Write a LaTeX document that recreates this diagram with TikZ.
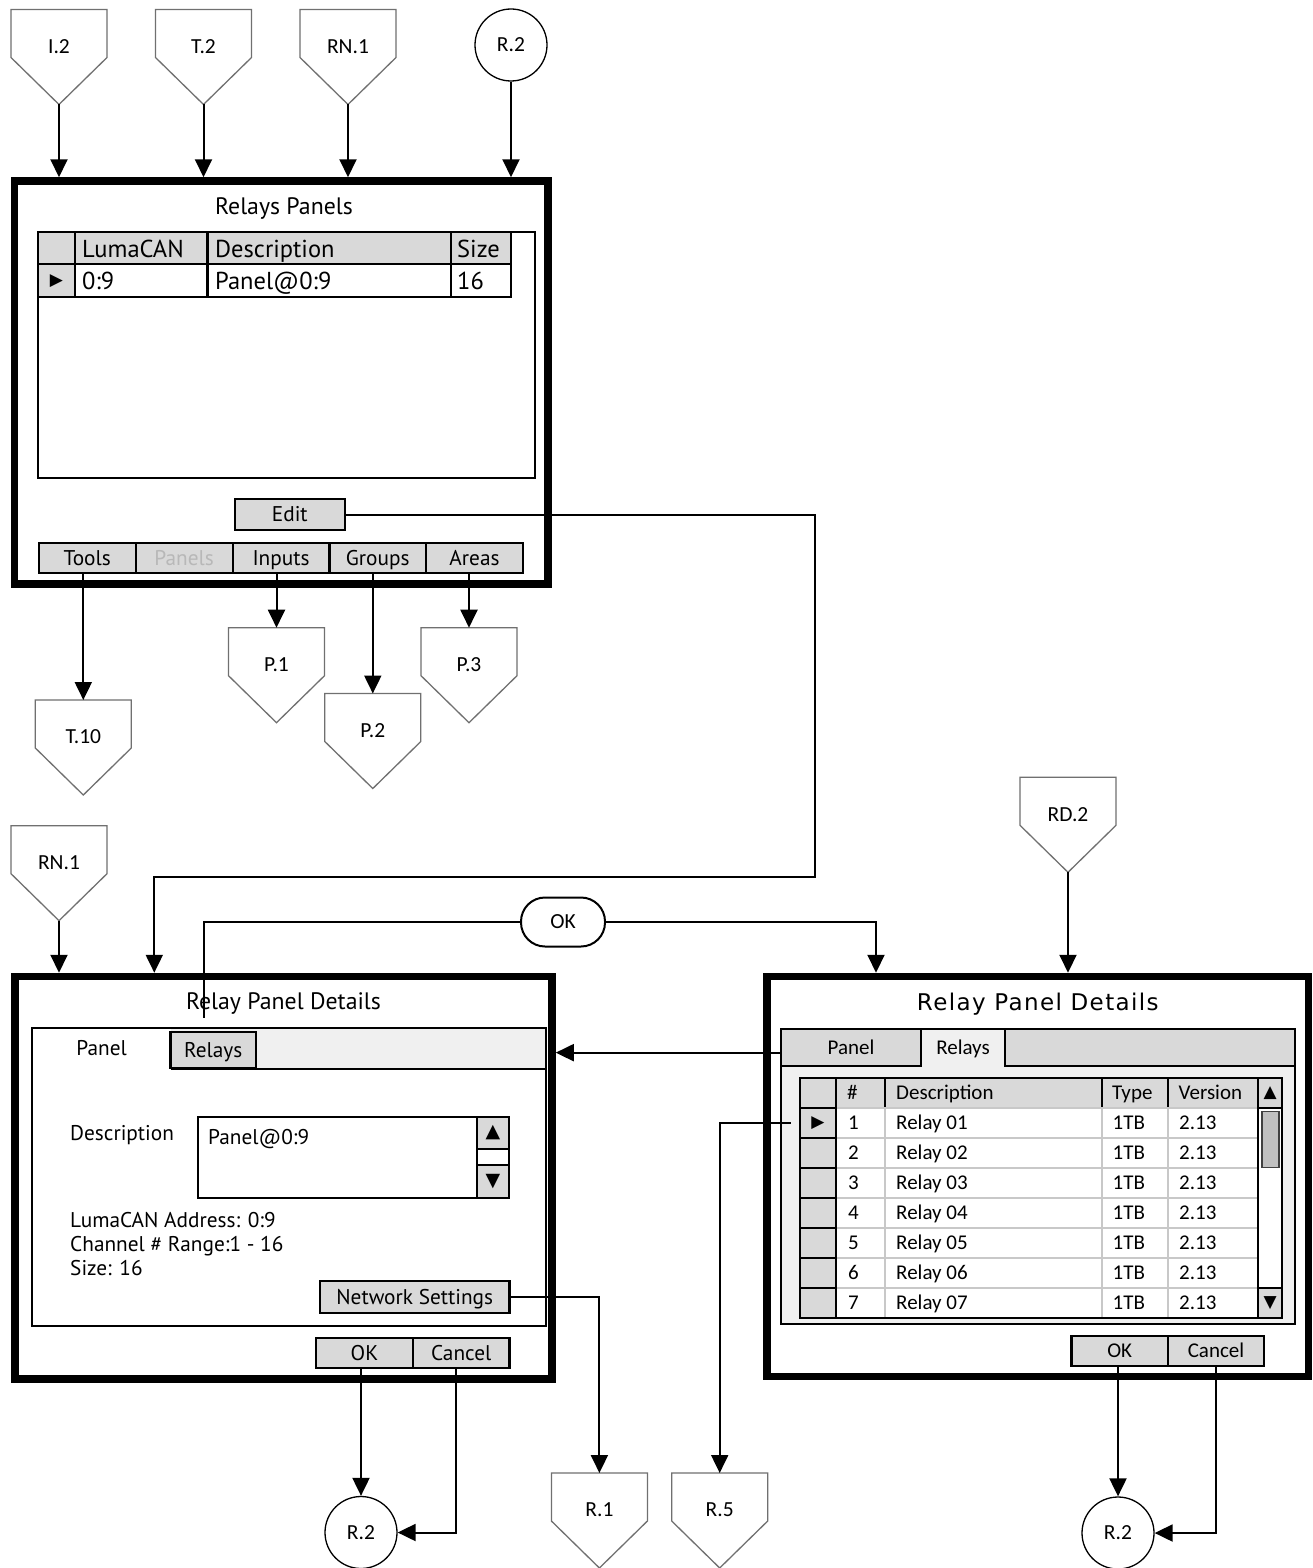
\documentclass[tikz,border=0pt]{standalone}
\usepackage{fontspec}
\setmainfont{Carlito}
\newfontfamily\ptsans{PT Sans}
\newfontfamily\djv{DejaVu Sans}
\newfontfamily\djvw[LetterSpace=6]{DejaVu Sans}
\usetikzlibrary{arrows.meta}
\definecolor{btngray}{HTML}{D9D9D9}
\definecolor{lightbg}{HTML}{F0F0F0}
\definecolor{gridgray}{HTML}{C8C8C8}
\definecolor{opgray}{HTML}{707070}
\definecolor{dimtext}{HTML}{B8B8B8}
\definecolor{thumbgray}{HTML}{C0C0C0}
% rectangle node by corners: opts, name, x1, y1, x2, y2, text
\newcommand\rbx[7]{\node[#1, inner sep=0pt, minimum width={(#5)-(#3)}, minimum height={(#6)-(#4)}] (#2) at ({((#3)+(#5))/2},{((#4)+(#6))/2}) {#7};}
% off-page connector: name, centre x, top y, label
\newcommand\opg[4]{%
  \draw[opgl] ({#2-48},#3) -- ({#2+48},#3) -- ({#2+48},{#3+48}) -- (#2,{#3+95}) -- ({#2-48},{#3+48}) -- cycle;
  \coordinate (#1-top) at (#2,#3);
  \coordinate (#1-tip) at (#2,{#3+95});
  \node[lab] (#1) at (#2,{#3+37}) {#4};}
\begin{document}
\begin{tikzpicture}[x=1pt,y=-1pt,
  win/.style={draw, line width=7.5pt, fill=white},
  frm/.style={draw, line width=2.2pt},
  gb/.style={draw, line width=2.2pt, fill=btngray},
  conn/.style={line width=2pt, -{Triangle[length=18pt,width=17pt]}},
  wire/.style={line width=2pt},
  opgl/.style={draw=opgray, line width=1.3pt, fill=white},
  lab/.style={font=\fontsize{21.5}{25}\selectfont, inner sep=0pt, text height=13.8pt, text depth=0pt},
  circ/.style={draw, circle, line width=1.3pt, minimum size=72pt, inner sep=0pt, font=\fontsize{21.5}{25}\selectfont, text height=13.8pt, text depth=0pt},
  ttl/.style={font=\ptsans\fontsize{23.8}{28}\selectfont, inner sep=0pt, text height=16.5pt, text depth=0pt},
  big/.style={font=\ptsans\fontsize{24.5}{29}\selectfont, text height=17pt, text depth=0pt},
  sm/.style={font=\ptsans\fontsize{21.3}{25}\selectfont, text height=14.8pt, text depth=0pt},
  cal/.style={font=\fontsize{21}{25}\selectfont, text height=13.5pt, text depth=0pt},
  sym/.style={font=\djv\fontsize{17}{20}\selectfont, inner sep=0pt},
  tx/.style={inner sep=0pt, anchor=west},
]
\fill[white] (0,0) rectangle (1312,1568);
\useasboundingbox (0,0) rectangle (1312,1568);

% ---------------- top window ----------------
\rbx{win}{w1}{14.5}{181}{548}{584}{}
\node[ttl] (w1t) at (284,206.5) {Relays Panels};
\rbx{frm,fill=white}{tb1}{37.7}{231.7}{535}{478}{}
\rbx{gb}{h1s}{37.7}{231.7}{74.7}{264}{}
\rbx{gb}{h1a}{74.7}{231.7}{207.5}{264}{}
\rbx{gb}{h1b}{207.5}{231.7}{451}{264}{}
\rbx{gb}{h1c}{451}{231.7}{510.8}{264}{}
\rbx{gb}{r1s}{37.7}{264}{74.7}{296.7}{}
\rbx{frm,fill=white}{r1a}{74.7}{264}{207.5}{296.7}{}
\rbx{frm,fill=white}{r1b}{207.5}{264}{451}{296.7}{}
\rbx{frm,fill=white}{r1c}{451}{264}{510.8}{296.7}{}
\node[tx,big] (h1at) at (82,248.5) {LumaCAN};
\node[tx,big] (h1bt) at (215,248.5) {Description};
\node[tx,big] (h1ct) at (457,248.5) {Size};
\node[sym] (r1sm) at (56.5,281) {▶};
\node[tx,big] (r1at) at (82,281) {0:9};
\node[tx,big] (r1bt) at (215,281) {Panel@0:9};
\node[tx,big] (r1ct) at (457,281) {16};
\rbx{gb,sm}{edit}{235}{499}{344.6}{530}{Edit}
\rbx{gb,sm}{tools}{38.8}{542.7}{135.7}{573}{Tools}
\rbx{gb,sm,text=dimtext}{panels}{135.7}{542.7}{232.6}{573}{Panels}
\rbx{gb,sm}{inputs}{232.6}{542.7}{329.5}{573}{Inputs}
\rbx{gb,sm}{groups}{329.5}{542.7}{426}{573}{Groups}
\rbx{gb,sm}{areas}{426}{542.7}{523}{573}{Areas}

% ---------------- bottom-left window ----------------
\rbx{win}{w2}{15}{976.5}{552}{1379}{}
\node[ttl] (w2t) at (283.5,1001.7) {Relay Panel Details};
\rbx{frm,fill=white}{tc2}{31.6}{1027.7}{546}{1326}{}
\fill[lightbg] (170.5,1028.8) rectangle (544.9,1069.3);
\draw[line width=2.2pt] (170.5,1069.3) -- (546,1069.3);
\rbx{gb,sm}{rtab2}{170.5}{1031.7}{256}{1068.3}{Relays}
\node[sm, inner sep=0pt] (ptab2) at (101.6,1048) {Panel};
\node[tx,sm] (dlab) at (70,1133) {Description};
\rbx{frm,fill=white}{dbox}{198}{1116.7}{509}{1198.3}{}
\rbx{gb}{dup}{477}{1116.7}{509}{1149}{}
\rbx{gb}{ddn}{477}{1165}{509}{1198.3}{}
\draw[line width=2.2pt] (477,1116.7) -- (477,1198.3);
\node[sym,font=\djv\fontsize{19}{22}\selectfont] (dupt) at (dup) {▲};
\node[sym,font=\djv\fontsize{19}{22}\selectfont] (ddnt) at (ddn) {▼};
\node[tx,sm] (dtxt) at (208,1136.7) {Panel@0:9};
\node[tx,sm] (la) at (70,1220) {LumaCAN Address: 0:9};
\node[tx,sm] (lb) at (70,1244) {Channel \# Range:1 - 16};
\node[tx,sm] (lc) at (70,1268.5) {Size: 16};
\rbx{gb,sm}{ns}{320}{1281}{509.5}{1313}{Network Settings}
\rbx{gb,sm}{ok2}{316}{1337.7}{413}{1367.7}{OK}
\rbx{gb,sm}{cc2}{413}{1337.7}{509.5}{1367.7}{Cancel}

% ---------------- bottom-right window ----------------
\rbx{win}{w3}{767}{976.5}{1308.3}{1376.5}{}
\node[font=\djvw\fontsize{23}{27}\selectfont, inner sep=0pt, text height=16.5pt, text depth=0pt] (w3t) at (1037.8,1002.7) {Relay Panel Details};
\rbx{frm,fill=lightbg}{tc3}{781.2}{1029.3}{1295}{1324.3}{}
\rbx{frm,fill=btngray}{strip3}{781.2}{1029.3}{1295}{1066}{}
\rbx{frm,fill=btngray,cal}{ptab3}{781.2}{1029.3}{921}{1066}{Panel}
\rbx{frm,fill=lightbg,cal}{rtab3}{921}{1029.3}{1005}{1066}{Relays}
\draw[lightbg, line width=2.6pt] (922.4,1066) -- (1003.6,1066);
\rbx{frm,fill=white}{tb3}{799.6}{1078}{1282}{1318}{}
\rbx{gb}{hs}{799.6}{1078}{836}{1108}{}
\rbx{gb}{hn}{836}{1078}{884.6}{1108}{}
\rbx{gb}{hd}{884.6}{1078}{1101.8}{1108}{}
\rbx{gb}{ht}{1101.8}{1078}{1168}{1108}{}
\rbx{gb}{hv}{1168}{1078}{1258.2}{1108}{}
\rbx{gb}{hu}{1258.2}{1078}{1282}{1108}{}
\node[tx,cal] (hnt) at (847,1093) {\#};
\node[tx,cal] (hdt) at (896,1093) {Description};
\node[tx,cal] (htt) at (1112,1093) {Type};
\node[tx,cal] (hvt) at (1178.5,1093) {Version};
\foreach \i in {1,...,7}{
  \pgfmathsetmacro\ya{1078+30*\i}
  \pgfmathsetmacro\yb{\ya+30}
  \pgfmathsetmacro\yc{\ya+15}
  \rbx{draw=gridgray,line width=2pt,fill=white}{cn\i}{836}{\ya}{884.6}{\yb}{}
  \rbx{draw=gridgray,line width=2pt,fill=white}{cd\i}{884.6}{\ya}{1101.8}{\yb}{}
  \rbx{draw=gridgray,line width=2pt,fill=white}{ct\i}{1101.8}{\ya}{1168}{\yb}{}
  \rbx{draw=gridgray,line width=2pt,fill=white}{cv\i}{1168}{\ya}{1258.2}{\yb}{}
  \rbx{gb}{sel\i}{799.6}{\ya}{836}{\yb}{}
  \node[tx,cal] (tn\i) at (848,\yc) {\i};
  \node[tx,cal] (td\i) at (896,\yc) {Relay 0\i};
  \node[tx,cal] (tt\i) at (1112.5,\yc) {1TB};
  \node[tx,cal] (tv\i) at (1179,\yc) {2.13};
}
\node[sym] (s1m) at (sel1) {▶};
\rbx{draw,line width=2pt,fill=white}{track}{1258.2}{1108}{1282}{1288}{}
\rbx{draw=black!75,line width=1.5pt,fill=thumbgray}{thumb}{1262}{1111.7}{1279}{1167.3}{}
\rbx{gb}{sdn}{1258.2}{1288}{1282}{1318}{}
\node[sym] (hut) at (hu) {▲};
\node[sym] (sdnt) at (sdn) {▼};
\draw[line width=2.2pt] (799.6,1078) rectangle (1282,1318);
\rbx{gb,cal}{ok3}{1071.4}{1336}{1168}{1366}{OK}
\rbx{gb,cal}{cc3}{1168}{1336}{1264}{1366}{Cancel}

% ---------------- connector symbols ----------------
\opg{i2}{59}{9.5}{I.2}
\opg{t2}{203.5}{9.5}{T.2}
\opg{rn1a}{348}{9.5}{RN.1}
\node[circ] (r2a) at (511,45) {R.2};
\opg{t10}{83.3}{700}{T.10}
\opg{p1}{276.5}{627.7}{P.1}
\opg{p2}{372.8}{693.5}{P.2}
\opg{p3}{469}{627.7}{P.3}
\opg{rn1b}{59}{825.7}{RN.1}
\opg{rd2}{1068}{777.3}{RD.2}
\opg{r1}{599.4}{1473}{R.1}
\opg{r5}{719.7}{1473}{R.5}
\node[circ] (r2b) at (361,1532.5) {R.2};
\node[circ] (r2c) at (1118,1533) {R.2};
\node[draw, line width=2pt, rounded corners=24pt, minimum width=84pt, minimum height=49pt, inner sep=0pt, font=\fontsize{21.5}{25}\selectfont, text height=13.8pt, text depth=0pt] (okp) at (563,922) {OK};

% ---------------- connectors ----------------
\draw[conn] (i2-tip) -- (i2-tip |- w1.north);
\draw[conn] (t2-tip) -- (t2-tip |- w1.north);
\draw[conn] (rn1a-tip) -- (rn1a-tip |- w1.north);
\draw[conn] (r2a.south) -- (r2a.south |- w1.north);
\draw[conn] (tools.south -| t10-top) -- (t10-top);
\draw[conn] (inputs.south -| p1-top) -- (p1-top);
\draw[conn] (groups.south -| p2-top) -- (p2-top);
\draw[conn] (areas.south -| p3-top) -- (p3-top);
\coordinate (e1) at (815,876.5);
\coordinate (e2) at (154.3,876.5);
\draw[conn] (edit.east) -| (e1) -- (e2) -- (e2 |- w2.north);
\draw[conn] (rn1b-tip) -- (rn1b-tip |- w2.north);
\draw[conn] (rd2-tip) -- (rd2-tip |- w3.north);
\coordinate (okend) at (204,1018);
\draw[wire] (okp.west) -| (okend);
\coordinate (okin) at (876,922);
\draw[conn] (okp.east) -- (okin) -- (okin |- w3.north);
\coordinate (rl) at ([yshift=-5pt]ptab3.west);
\draw[conn] (rl) -- (rl -| w2.east);
\draw[conn] (ns.east) -| (r1-top);
\coordinate (r5s) at ([xshift=-8pt]sel1.west);
\draw[conn] (r5s) -| (r5-top);
\draw[conn] (r2b.north |- ok2.south) -- (r2b.north);
\draw[conn] ([xshift=-5pt]cc2.south) |- (r2b.east);
\draw[conn] (r2c.north |- ok3.south) -- (r2c.north);
\draw[conn] (cc3.south) |- (r2c.east);
\end{tikzpicture}
\end{document}
